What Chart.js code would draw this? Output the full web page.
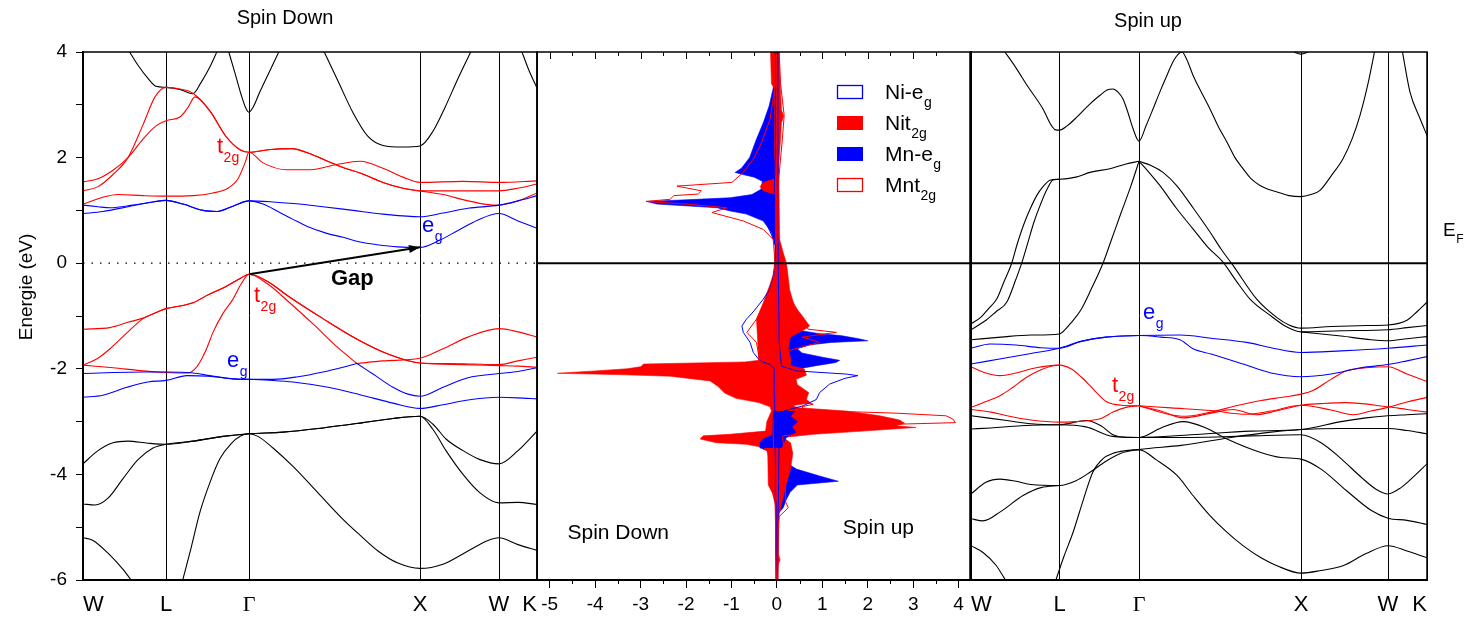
<!DOCTYPE html>
<html>
<head>
<meta charset="utf-8">
<script src="https://cdn.jsdelivr.net/npm/chart.js@4.4.0/dist/chart.umd.min.js"></script>
<style>
  html, body { margin: 0; padding: 0; background: #fff; }
  #wrap { position: relative; width: 1464px; height: 619px; overflow: hidden; }
  canvas { position: absolute; top: 0; }
</style>
</head>
<body>
<div id="wrap">
  <canvas id="bandDn" width="560" height="619" style="left:0px"></canvas>
  <canvas id="dos" width="490" height="619" style="left:500px"></canvas>
  <canvas id="bandUp" width="524" height="619" style="left:940px"></canvas>
</div>
<script>
// k-path (high symmetry points) and tick labels
const kDn = [0, 83, 166, 337, 416, 454];
const kUp = [0, 88.5, 168, 330, 417, 456];
const kLabels = ['W', 'L', 'Γ', 'X', 'W', 'K'];
const energyTicks = [4, 2, 0, -2, -4, -6];
const dosTicks = [-5, -4, -3, -2, -1, 0, 1, 2, 3, 4];
const fermiLevel = 0;

// ---- spin down bands [k, E] ----
const dnC1 = [[45,4.05],[55,3.75],[65,3.5],[73,3.35],[83,3.33],[97,3.29],[110,3.21],[118,3.42],[127,3.72],[135,4.05]];
const dnC2 = [[145,4.05],[152,3.6],[158,3.2],[163,2.93],[166,2.86],[170,2.95],[177,3.25],[187,3.65],[197,4.05]];
const dnC3 = [[240,4.05],[255,3.45],[270,2.85],[285,2.4],[300,2.23],[320,2.2],[337,2.22],[350,2.5],[362,2.95],[375,3.5],[389,4.05]];
const dnC4 = [[438,4.05],[446,3.65],[454,3.32]];
const dnV1 = [[0,-3.8],[15,-3.55],[30,-3.4],[45,-3.37],[65,-3.41],[83,-3.43],[110,-3.37],[140,-3.28],[166,-3.23],[200,-3.2],[240,-3.12],[280,-3.02],[310,-2.94],[337,-2.9],[350,-3.05],[363,-3.33],[380,-3.55],[397,-3.72],[416,-3.8],[435,-3.55],[454,-3.18]];
const dnV2 = [[0,-4.56],[12,-4.58],[25,-4.45],[40,-4.08],[55,-3.72],[70,-3.5],[83,-3.43],[110,-3.37],[140,-3.28],[166,-3.23],[200,-3.2],[240,-3.12],[280,-3.02],[310,-2.94],[337,-2.9],[350,-3.15],[363,-3.55],[380,-4.0],[397,-4.35],[416,-4.54],[435,-4.53],[454,-4.57]];
const dnV3 = [[99,-6.05],[108,-5.4],[117,-4.71],[127,-4.15],[137,-3.7],[148,-3.42],[158,-3.27],[166,-3.23],[175,-3.28],[190,-3.5],[210,-3.85],[235,-4.35],[260,-4.85],[277,-5.15],[295,-5.45],[315,-5.68],[337,-5.78],[360,-5.7],[385,-5.45],[405,-5.25],[416,-5.2],[435,-5.33],[454,-5.44]];
const dnV4 = [[0,-5.2],[10,-5.25],[27,-5.53],[40,-5.8],[50,-6.05]];
const dnR1 = [[0,1.54],[15,1.6],[30,1.76],[45,2.0],[60,2.35],[73,2.6],[83,2.7],[97,2.77],[105,2.95],[112,3.15],[127,2.88],[143,2.4],[157,2.15],[166,2.1],[185,2.15],[208,2.17],[230,2.05],[246,1.92],[262,1.8],[277,1.71],[300,1.53],[320,1.42],[337,1.37],[380,1.37],[416,1.37],[435,1.42],[454,1.5]];
const dnR2 = [[0,1.37],[15,1.45],[30,1.68],[45,2.0],[60,2.62],[72,3.15],[83,3.33],[97,3.3],[110,3.22],[127,2.88],[143,2.4],[157,2.15],[166,2.1],[185,2.15],[208,2.17],[230,2.05],[246,1.92],[262,1.8],[277,1.71],[300,1.53],[320,1.42],[337,1.37],[360,1.3],[385,1.18],[405,1.11],[416,1.1],[435,1.18],[454,1.33]];
const dnR3 = [[0,1.12],[20,1.25],[35,1.3],[60,1.28],[83,1.27],[110,1.28],[130,1.33],[145,1.42],[155,1.6],[162,1.9],[166,2.1],[180,1.9],[204,1.77],[227,1.77],[254,1.87],[277,1.93],[300,1.8],[320,1.63],[337,1.53],[380,1.55],[416,1.53],[454,1.56]];
const dnRV1 = [[0,-1.25],[27,-1.22],[45,-1.12],[60,-1.04],[75,-0.92],[83,-0.86],[100,-0.8],[110,-0.75],[125,-0.6],[143,-0.44],[158,-0.28],[166,-0.21],[185,-0.35],[205,-0.62],[240,-1.05],[275,-1.45],[305,-1.72],[337,-1.89],[380,-1.92],[416,-1.94],[435,-1.95],[454,-1.97]];
const dnRV2 = [[0,-1.93],[15,-1.8],[27,-1.62],[45,-1.3],[60,-1.05],[75,-0.92],[83,-0.86],[100,-0.8],[110,-0.75],[125,-0.6],[143,-0.44],[158,-0.28],[166,-0.21],[185,-0.35],[205,-0.62],[240,-1.05],[275,-1.45],[305,-1.72],[337,-1.89],[365,-1.9],[390,-1.91],[416,-1.92],[435,-1.85],[454,-1.78]];
const dnRV3 = [[0,-1.93],[30,-1.98],[60,-2.04],[83,-2.07],[105,-2.08],[112,-2.0],[117,-1.87],[124,-1.6],[130,-1.31],[140,-0.95],[150,-0.68],[158,-0.4],[166,-0.21],[185,-0.4],[205,-0.72],[230,-1.15],[255,-1.6],[274,-1.9]];
const dnRV4 = [[274,-1.9],[300,-1.85],[337,-1.8],[360,-1.62],[385,-1.4],[416,-1.24],[435,-1.3],[454,-1.4]];
const dnB1 = [[0,1.1],[15,1.07],[27,1.05],[50,1.1],[70,1.16],[83,1.19],[100,1.12],[120,1.0],[134,0.98],[150,1.08],[166,1.18],[190,1.16],[210,1.13],[240,1.07],[270,1.0],[300,0.93],[337,0.88],[360,0.95],[385,1.04],[416,1.1],[435,1.18],[454,1.28]];
const dnB2 = [[0,0.94],[20,0.98],[45,1.07],[70,1.16],[83,1.19],[100,1.12],[120,1.0],[134,0.98],[150,1.08],[166,1.18],[180,1.12],[195,0.98],[210,0.83],[225,0.69],[243,0.57],[260,0.49],[277,0.4],[294,0.35],[315,0.31],[337,0.3],[355,0.42],[375,0.62],[395,0.82],[416,0.94],[435,0.8],[454,0.66]];
const dnBV1 = [[0,-2.09],[30,-2.07],[60,-2.06],[83,-2.06],[110,-2.08],[127,-2.13],[150,-2.19],[166,-2.2],[190,-2.2],[215,-2.15],[240,-2.06],[260,-1.97],[274,-1.9]];
const dnBV2 = [[274,-1.9],[290,-2.1],[310,-2.35],[325,-2.48],[337,-2.52],[360,-2.35],[385,-2.17],[416,-2.09],[435,-2.05],[454,-1.98]];
const dnBV3 = [[0,-2.54],[20,-2.5],[44,-2.35],[65,-2.25],[83,-2.22],[104,-2.13],[125,-2.14],[150,-2.19],[166,-2.2],[190,-2.22],[210,-2.25],[245,-2.35],[277,-2.49],[310,-2.65],[337,-2.75],[360,-2.68],[385,-2.59],[416,-2.54],[435,-2.55],[454,-2.57]];
const gapArrow = [[166,-0.21],[337,0.3]];

// ---- spin up bands [k, E] ----
const upC1 = [[32,4.05],[45,3.7],[56,3.37],[72,2.92],[80,2.62],[84,2.53],[88.5,2.52],[96,2.6],[106,2.77],[118,3.0],[129,3.18],[136,3.28],[142,3.3],[147,3.24],[152,3.11],[157,2.85],[162,2.55],[168,2.31],[175,2.6],[182,2.92],[189,3.25],[196,3.56],[203,3.85],[211,4.0],[216,3.85],[222,3.56],[230,3.25],[239,2.92],[247,2.6],[256,2.29],[264,2.0],[272,1.79],[280,1.6],[289,1.47],[297,1.4],[306,1.35],[318,1.28],[330,1.26],[340,1.3],[349,1.38],[360,1.65],[372,1.98],[381,2.35],[389,2.8],[397,3.4],[404,4.05]];
const upC2 = [[431,4.05],[439,3.24],[449,2.74],[456,2.42]];
const upC3 = [[318,4.05],[330,3.96],[342,4.05]];
const upK1 = [[0,-1.15],[10,-1.02],[18,-0.85],[25.7,-0.68],[33,-0.35],[40.7,0],[46,0.35],[52.3,0.71],[59,1.02],[65.7,1.28],[72,1.45],[79,1.57],[88.5,1.59],[105,1.63],[119,1.72],[139,1.79],[155,1.88],[168,1.93]];
const upK2 = [[0,-1.26],[15,-1.08],[25,-0.92],[35.7,-0.74],[45,-0.3],[50.7,0],[57,0.4],[63,0.78],[69,1.09],[76,1.4],[82.3,1.58],[88.5,1.59]];
const upK3 = [[0,-1.45],[30,-1.4],[60,-1.36],[88.5,-1.34],[95,-1.24],[100,-1.13],[110,-0.88],[120,-0.5],[132,0],[140,0.42],[150,0.95],[160,1.47],[168,1.93]];
const upK4 = [[168,1.93],[180,1.85],[192,1.72],[205.7,1.47],[222,1.05],[239,0.59],[250,0.27],[262,-0.04],[285.7,-0.68],[306,-1.03],[318,-1.17],[330,-1.23],[360,-1.2],[395,-1.18],[417,-1.17],[436,-1.08],[446,-0.92],[456,-0.74]];
const upK5 = [[168,1.93],[178,1.72],[189,1.47],[205,1.05],[222,0.65],[237,0.3],[252,0.02],[265,-0.33],[279,-0.68],[300,-1.0],[315,-1.2],[330,-1.3],[370,-1.28],[417,-1.26],[436,-1.22],[456,-1.18]];
const upK6 = [[330,-1.3],[370,-1.38],[400,-1.45],[417,-1.47],[436,-1.43],[456,-1.39]];
const upB1 = [[0,-1.61],[19,-1.53],[45,-1.55],[70,-1.6],[88.5,-1.61],[110,-1.48],[135,-1.4],[168,-1.37],[209,-1.36],[240,-1.42],[275.7,-1.5],[300,-1.6],[330,-1.69],[370,-1.66],[417,-1.61],[456,-1.55]];
const upB2 = [[0,-1.91],[30,-1.81],[60,-1.71],[88.5,-1.61],[110,-1.48],[135,-1.4],[168,-1.37],[190,-1.4],[209,-1.45],[222,-1.62],[240,-1.72],[272,-1.91],[300,-2.08],[330,-2.15],[360,-2.1],[390,-1.98],[417,-1.92],[436,-1.85],[456,-1.77]];
const upRA = [[0,-1.96],[15,-2.08],[29,-2.13],[45,-2.08],[65,-1.98],[88.5,-1.93],[100,-2.0],[110,-2.15],[119,-2.32],[128,-2.5],[136,-2.63],[150,-2.69],[168,-2.7]];
const upRA2 = [[0,-2.73],[15,-2.62],[29,-2.51],[42,-2.35],[55.7,-2.16],[70,-2.02],[80,-1.95],[88.5,-1.93]];
const upRB = [[0,-2.77],[20,-2.82],[36,-2.89],[60,-2.97],[88.5,-3.01],[105,-3.0],[119,-2.98],[130,-2.94],[142,-2.82],[155,-2.73],[168,-2.7]];
const upR1 = [[168,-2.7],[190,-2.8],[212,-2.93],[240,-2.84],[262,-2.77],[285,-2.87],[305,-2.8],[330,-2.69],[350,-2.66],[375,-2.64],[417,-2.72],[436,-2.77],[456,-2.82]];
const upR2 = [[168,-2.7],[200,-2.74],[240,-2.79],[275,-2.86],[300,-2.8],[330,-2.69],[360,-2.78],[382,-2.87],[400,-2.8],[417,-2.73],[436,-2.63],[456,-2.54]];
const upR3 = [[168,-2.7],[195,-2.85],[215,-2.9],[240,-2.82],[265,-2.7],[290,-2.6],[315,-2.53],[330,-2.48],[342,-2.41],[360,-2.2],[375,-2.04],[395,-1.98],[417,-1.96],[436,-2.1],[456,-2.24]];
const upS1 = [[0,-2.89],[36,-2.98],[60,-3.04],[88.5,-3.06],[115,-2.98],[130,-3.08],[142,-3.25],[155,-3.3],[168,-3.3],[190,-3.12],[212,-3.0],[235,-3.12],[256,-3.33],[289,-3.58],[310,-3.68],[330,-3.71],[350,-3.9],[375,-4.3],[400,-4.68],[417,-4.83],[436,-4.87],[456,-4.95]];
const upS2 = [[0,-3.14],[20,-3.12],[50,-3.08],[88.5,-3.06],[115,-3.1],[142,-3.28],[168,-3.3],[220,-3.25],[280,-3.18],[330,-3.15],[370,-3.0],[395,-2.93],[417,-2.89],[436,-2.87],[456,-2.85]];
const upS3 = [[0,-4.37],[15,-4.15],[29,-4.09],[45,-4.13],[60,-4.19],[88.5,-4.21],[105,-4.12],[119,-3.96],[135,-3.75],[150,-3.6],[168,-3.53],[210,-3.45],[260,-3.3],[300,-3.2],[330,-3.15],[370,-3.13],[417,-3.13],[436,-3.17],[456,-3.23]];
const upS4 = [[168,-3.3],[220,-3.3],[280,-3.27],[330,-3.25],[350,-3.4],[370,-3.7],[390,-4.05],[405,-4.28],[417,-4.37],[430,-4.25],[445,-4.0],[456,-3.8]];
const upS5 = [[0,-4.84],[12,-4.88],[30,-4.7],[52,-4.4],[70,-4.25],[88.5,-4.21]];
const upS6 = [[84,-6.05],[93,-5.55],[102,-5.1],[112,-4.5],[122,-3.95],[132,-3.7],[142,-3.6],[155,-3.55],[168,-3.53],[185,-3.72],[206,-4.02],[222,-4.4],[239,-4.78],[255,-5.08],[272,-5.35],[290,-5.58],[306,-5.73],[330,-5.87],[350,-5.82],[372,-5.73],[395,-5.5],[417,-5.35],[436,-5.45],[456,-5.58]];
const upS7 = [[0,-5.35],[12,-5.48],[25,-5.72],[36,-6.05]];

// ---- PDOS [E, states] (spin down negative, spin up positive) ----
const niEgDn = [[-6,-0.01],[-4.5,-0.02],[-3.5,-0.04],[-2.5,-0.05],[-2.0,-0.06],[-1.92,-0.15],[-1.85,-0.37],[-1.69,-0.52],[-1.5,-0.59],[-1.31,-0.74],[-1.19,-0.77],[-1.06,-0.67],[-0.9,-0.5],[-0.68,-0.3],[-0.5,-0.16],[-0.2,-0.06],[0,-0.04],[0.33,-0.03],[0.5,-0.1],[0.7,-0.2],[0.9,-0.3],[1.0,-0.25],[1.1,-0.12],[1.3,-0.06],[2,-0.04],[4,-0.03]];
const niEgUp = [[-6,0.01],[-4,0.04],[-3.0,0.05],[-2.8,0.15],[-2.7,0.58],[-2.58,0.87],[-2.45,0.94],[-2.29,1.16],[-2.18,1.5],[-2.13,1.78],[-2.1,1.53],[-2.04,0.43],[-1.95,0.1],[-1.5,0.05],[0,0.03],[4,0.02]];
const nit2gDn = [[-6,-0.02],[-5.7,-0.03],[-5.6,-0.04],[-5.45,-0.02],[-4.6,-0.03],[-4.35,-0.1],[-4.2,-0.19],[-3.65,-0.2],[-3.55,-0.22],[-3.49,-0.3],[-3.43,-0.67],[-3.4,-1.33],[-3.33,-1.69],[-3.27,-1.62],[-3.24,-1.03],[-3.18,-0.25],[-3.0,-0.22],[-2.8,-0.12],[-2.72,-0.15],[-2.64,-0.4],[-2.56,-0.9],[-2.46,-1.15],[-2.33,-1.3],[-2.23,-1.47],[-2.14,-2.35],[-2.11,-3.5],[-2.085,-4.83],[-2.04,-4.0],[-2.0,-3.3],[-1.96,-3.0],[-1.91,-2.93],[-1.87,-0.7],[-1.84,-0.4],[-1.5,-0.42],[-1.06,-0.45],[-0.75,-0.3],[-0.4,-0.15],[-0.11,-0.04],[0,-0.03],[0.5,-0.03],[1.3,-0.04],[1.37,-0.3],[1.45,-0.37],[1.53,-0.3],[1.6,-0.05],[3.3,-0.05],[3.4,-0.12],[4,-0.14]];
const nit2gUp = [[-6,0.02],[-5.7,0.03],[-5.62,0.07],[-5.5,0.03],[-4.75,0.05],[-4.5,0.12],[-4.2,0.2],[-3.9,0.3],[-3.6,0.35],[-3.4,0.3],[-3.3,0.14],[-3.24,0.8],[-3.18,1.89],[-3.11,3.06],[-3.08,2.62],[-3.03,2.81],[-2.97,2.7],[-2.89,2.26],[-2.8,1.53],[-2.74,0.5],[-2.7,0.3],[-2.65,0.75],[-2.58,0.65],[-2.45,0.7],[-2.3,0.45],[-2.2,0.42],[-2.12,0.65],[-2.0,0.6],[-1.94,0.3],[-1.8,0.3],[-1.6,0.25],[-1.4,0.3],[-1.25,0.62],[-1.19,0.72],[-1.0,0.56],[-0.8,0.38],[-0.5,0.28],[-0.2,0.24],[0,0.21],[0.2,0.14],[0.45,0.06],[1.84,0.04],[2.35,0.08],[2.66,0.1],[2.79,0.15],[2.9,0.1],[3.42,0.07],[4,0.05]];
const mnEgDn = [[-6,-0.01],[-5.5,-0.02],[-4.45,-0.03],[-4.3,-0.12],[-4.2,-0.1],[-3.9,-0.06],[-3.6,-0.08],[-3.5,-0.36],[-3.4,-0.37],[-3.33,-0.3],[-3.25,-0.1],[-2.8,-0.08],[-2.3,-0.1],[-2.1,-0.12],[-1.9,-0.08],[-1.0,-0.12],[-0.5,-0.12],[0,-0.05],[0.33,-0.04],[0.58,-0.12],[0.8,-0.3],[0.93,-0.67],[0.99,-1.03],[1.05,-1.32],[1.12,-2.64],[1.17,-2.86],[1.2,-2.0],[1.24,-1.03],[1.3,-0.55],[1.4,-0.35],[1.55,-0.32],[1.63,-0.5],[1.68,-0.75],[1.72,-0.92],[1.8,-0.78],[2.0,-0.6],[2.35,-0.45],[2.66,-0.3],[2.98,-0.17],[3.36,-0.07],[4,-0.04]];
const mnEgUp = [[-6,0.01],[-4.75,0.02],[-4.63,0.14],[-4.47,0.21],[-4.34,0.29],[-4.2,0.45],[-4.13,1.35],[-4.03,0.94],[-3.9,0.43],[-3.71,0.08],[-3.5,0.1],[-3.3,0.2],[-3.2,0.42],[-3.1,0.33],[-3.0,0.45],[-2.9,0.3],[-2.8,0.4],[-2.65,0.35],[-2.45,0.4],[-2.3,0.38],[-2.15,0.3],[-2.05,0.15],[-1.95,0.8],[-1.88,1.3],[-1.84,1.38],[-1.78,1.0],[-1.7,0.55],[-1.62,0.45],[-1.55,0.7],[-1.5,1.2],[-1.47,2.0],[-1.43,1.8],[-1.37,1.4],[-1.33,0.9],[-1.28,0.55],[-1.2,0.3],[-1.0,0.12],[-0.5,0.05],[0,0.03],[4,0.02]];
const mnt2gDn = [[-6,-0.01],[-5,-0.03],[-4,-0.05],[-3.3,-0.08],[-2.5,-0.1],[-2.0,-0.12],[-1.85,-0.38],[-1.5,-0.45],[-1.31,-0.66],[-1.06,-0.45],[-0.81,-0.3],[-0.62,-0.19],[-0.3,-0.08],[0,-0.04],[0.45,-0.08],[0.64,-0.3],[0.8,-0.74],[0.96,-1.43],[1.05,-1.1],[1.12,-2.0],[1.17,-2.88],[1.21,-2.35],[1.28,-2.27],[1.31,-1.73],[1.37,-1.66],[1.46,-2.2],[1.53,-0.99],[1.72,-0.74],[1.97,-0.52],[2.22,-0.37],[2.73,-0.15],[3.42,-0.03],[4,-0.02]];
const mnt2gUp = [[-6,0.02],[-5,0.03],[-4.8,0.05],[-4.63,0.25],[-4.5,0.18],[-4.0,0.18],[-3.6,0.2],[-3.3,0.12],[-3.27,0.14],[-3.18,1.16],[-3.05,2.62],[-3.02,3.93],[-2.95,3.87],[-2.89,3.72],[-2.84,2.62],[-2.82,1.89],[-2.8,0.65],[-2.72,0.55],[-2.67,0.8],[-2.6,0.5],[-2.4,0.25],[-2.1,0.2],[-1.84,0.3],[-1.7,0.15],[-1.63,0.36],[-1.5,0.94],[-1.4,0.55],[-1.31,1.31],[-1.25,0.69],[-1.12,0.58],[-0.81,0.4],[-0.5,0.2],[0,0.12],[0.5,0.04],[1.5,0.03],[2.35,0.12],[2.8,0.16],[3.4,0.08],[4,0.05]];

const FONT = 'Arial, "Liberation Sans", sans-serif';
const SERIF = '"Liberation Serif", "Times New Roman", serif';
const RED = '#ff0000', BLUE = '#0000ff', BLACK = '#000000';

Chart.defaults.font.family = FONT;
Chart.defaults.color = BLACK;
Chart.defaults.animation = false;
Chart.defaults.events = [];
Chart.defaults.plugins.legend.display = false;
Chart.defaults.plugins.tooltip.enabled = false;

function band(pts, color, width) {
  return {
    data: pts.map(([k, e]) => ({ x: k, y: e })),
    borderColor: color, borderWidth: width || 1.1,
    pointRadius: 0, fill: false, cubicInterpolationMode: 'monotone'
  };
}

function dosSet(pts, color, filled) {
  return {
    data: pts.map(([e, d]) => ({ x: d, y: e })),
    borderColor: color, backgroundColor: color,
    borderWidth: filled ? 0.6 : 1, fill: filled ? 'origin' : false,
    pointRadius: 0, tension: 0
  };
}

function drawText(ctx, n, px, py) {
  ctx.save();
  ctx.translate(px, py);
  if (n.rotate) ctx.rotate(n.rotate);
  ctx.fillStyle = n.color || BLACK;
  ctx.font = (n.bold ? 'bold ' : '') + n.size + 'px ' + FONT;
  ctx.textAlign = n.align || 'left';
  ctx.textBaseline = n.baseline || 'alphabetic';
  ctx.fillText(n.text, 0, 0);
  if (n.sub) {
    const w = ctx.measureText(n.text).width;
    ctx.font = (n.subSize || Math.round(n.size * 0.65)) + 'px ' + FONT;
    ctx.textAlign = 'left';
    ctx.fillText(n.sub, w + 0.5, n.size * 0.4);
  }
  ctx.restore();
}

// text placed in data coordinates of each panel
function notesPlugin(notes) {
  return {
    id: 'notes',
    afterDraw(chart) {
      const { ctx, scales } = chart;
      notes.forEach(n => drawText(ctx, n, scales.x.getPixelForValue(n.x), scales.y.getPixelForValue(n.y)));
    }
  };
}

function framePlugin(fermiDash) {
  return {
    id: 'frame',
    afterDatasetsDraw(chart) {
      const { ctx, chartArea: a, scales } = chart;
      ctx.save();
      const y0 = scales.y.getPixelForValue(fermiLevel);
      ctx.beginPath();
      ctx.strokeStyle = BLACK;
      if (fermiDash) { ctx.setLineDash([1.5, 7]); ctx.lineWidth = 1.3; }
      else { ctx.lineWidth = 2; }
      ctx.moveTo(a.left, y0); ctx.lineTo(a.right, y0); ctx.stroke();
      ctx.setLineDash([]);
      ctx.lineWidth = 1.5;
      ctx.strokeRect(a.left, a.top, a.right - a.left, a.bottom - a.top);
      ctx.restore();
    }
  };
}

// short half-step ticks under the PDOS axis
const minorTicks = {
  id: 'minorTicks',
  afterDraw(chart) {
    const { ctx, chartArea: a, scales } = chart;
    ctx.save();
    ctx.strokeStyle = BLACK; ctx.lineWidth = 1;
    dosTicks.forEach(v => {
      const px = Math.round(scales.x.getPixelForValue(v + 0.5)) + 0.5;
      if (px > a.right) return;
      ctx.beginPath(); ctx.moveTo(px, a.bottom); ctx.lineTo(px, a.bottom + 4); ctx.stroke();
      ctx.beginPath(); ctx.moveTo(px, a.top); ctx.lineTo(px, a.top + 4); ctx.stroke();
      const pm = Math.round(scales.x.getPixelForValue(v)) + 0.5;
      ctx.beginPath(); ctx.moveTo(pm, a.top); ctx.lineTo(pm, a.top + 7); ctx.stroke();
    });
    ctx.restore();
  }
};

const arrowHead = {
  id: 'arrowHead',
  afterDatasetsDraw(chart) {
    const { ctx, scales } = chart;
    const [p0, p1] = gapArrow.map(([k, e]) => [scales.x.getPixelForValue(k), scales.y.getPixelForValue(e)]);
    const ang = Math.atan2(p1[1] - p0[1], p1[0] - p0[0]);
    ctx.save();
    ctx.translate(p1[0], p1[1]);
    ctx.rotate(ang);
    ctx.beginPath();
    ctx.moveTo(0, 0); ctx.lineTo(-11, -4); ctx.lineTo(-11, 4); ctx.closePath();
    ctx.fillStyle = BLACK; ctx.fill();
    ctx.restore();
  }
};

function bandScales(kPts, yWidth, showY) {
  return {
    x: {
      type: 'linear', min: kPts[0], max: kPts[kPts.length - 1],
      afterBuildTicks: s => { s.ticks = kPts.map(v => ({ value: v })); },
      afterFit: s => { s.height = 39; },
      ticks: {
        autoSkip: false, maxRotation: 0, align: 'inner', padding: 12, color: BLACK,
        callback: (v, i) => kLabels[i],
        font: c => (kLabels[c.index] === 'Γ' ? { family: SERIF, size: 22 } : { family: FONT, size: 22 })
      },
      grid: { color: BLACK, lineWidth: 1, drawTicks: false },
      border: { color: BLACK, width: 2 }
    },
    y: {
      type: 'linear', min: -6, max: 4,
      afterFit: s => { s.width = yWidth; },
      ticks: {
        display: showY, stepSize: 1, padding: 9, color: BLACK, font: { size: 19 },
        callback: v => (energyTicks.includes(v) ? String(v) : '')
      },
      grid: { drawOnChartArea: false, color: BLACK, tickLength: 7, drawTicks: showY },
      border: { color: BLACK, width: 2 }
    }
  };
}

// ---- spin down band structure ----
const dnNotes = [
  { x: 202, y: 4.53, text: 'Spin Down', size: 20, align: 'center' },
  { x: -56, y: -0.45, text: 'Energie (eV)', size: 19, align: 'center', baseline: 'middle', rotate: -Math.PI / 2 },
  { x: 134, y: 2.09, text: 't', sub: '2g', size: 22, subSize: 14, color: RED },
  { x: 339, y: 0.59, text: 'e', sub: 'g', size: 22, subSize: 14, color: BLUE },
  { x: 171, y: -0.74, text: 't', sub: '2g', size: 22, subSize: 14, color: RED },
  { x: 144, y: -1.97, text: 'e', sub: 'g', size: 22, subSize: 14, color: BLUE },
  { x: 248, y: -0.41, text: 'Gap', size: 22, bold: true }
];
new Chart(document.getElementById('bandDn'), {
  type: 'line',
  data: {
    datasets: [
      band(gapArrow, BLACK, 2),
      ...[dnB1, dnB2, dnBV1, dnBV2, dnBV3].map(b => band(b, BLUE)),
      ...[dnR1, dnR2, dnR3, dnRV1, dnRV2, dnRV3, dnRV4].map(b => band(b, RED)),
      ...[dnC1, dnC2, dnC3, dnC4, dnV1, dnV2, dnV3, dnV4].map(b => band(b, BLACK))
    ]
  },
  options: {
    responsive: false,
    layout: { padding: { top: 52, right: 23, left: 0, bottom: 0 } },
    scales: bandScales(kDn, 83, true)
  },
  plugins: [framePlugin(true), arrowHead, notesPlugin(dnNotes)]
});

// ---- PDOS panel ----
const overlayRange = ([e]) => e >= -3.5 && e <= -2.75;
const dosLayers = [
  dosSet(mnEgDn, BLUE, true), dosSet(mnEgUp, BLUE, true),
  dosSet(nit2gDn, RED, true), dosSet(nit2gUp, RED, true),
  dosSet(mnEgDn.filter(overlayRange), BLUE, true), dosSet(mnEgUp.filter(overlayRange), BLUE, true),
  dosSet(niEgDn, BLUE, false), dosSet(niEgUp, BLUE, false),
  dosSet(mnt2gDn, RED, false), dosSet(mnt2gUp, RED, false)
];
dosLayers.forEach((d, i) => { d.order = dosLayers.length - i; });

const legendItems = [
  { text: 'Ni-e', sub: 'g', color: BLUE, filled: false },
  { text: 'Nit', sub: '2g', color: RED, filled: true },
  { text: 'Mn-e', sub: 'g', color: BLUE, filled: true },
  { text: 'Mnt', sub: '2g', color: RED, filled: false }
];
const dosLegend = {
  id: 'dosLegend',
  afterDraw(chart) {
    const { ctx, chartArea: a } = chart;
    legendItems.forEach((it, i) => {
      const bx = a.left + 300, by = a.top + 33 + i * 31;
      ctx.save();
      if (it.filled) { ctx.fillStyle = it.color; ctx.fillRect(bx, by, 26, 14); }
      else { ctx.strokeStyle = it.color; ctx.lineWidth = 1.3; ctx.strokeRect(bx + 0.5, by + 0.5, 25, 13); }
      ctx.restore();
      drawText(ctx, { text: it.text, sub: it.sub, size: 21, subSize: 14 }, bx + 48, by + 14);
    });
  }
};
const dosNotes = [
  { x: -4.61, y: -5.23, text: 'Spin Down', size: 21 },
  { x: 1.45, y: -5.13, text: 'Spin up', size: 21 }
];
new Chart(document.getElementById('dos'), {
  type: 'line',
  data: { datasets: dosLayers },
  options: {
    responsive: false,
    indexAxis: 'y',
    layout: { padding: { top: 52, right: 20, left: 37, bottom: 0 } },
    scales: {
      x: {
        type: 'linear', min: -5.28, max: 4.25,
        afterBuildTicks: s => { s.ticks = dosTicks.map(v => ({ value: v })); },
        afterFit: s => { s.height = 39; },
        ticks: { autoSkip: false, maxRotation: 0, padding: 5, color: BLACK, font: { size: 19 }, callback: v => String(v) },
        grid: { drawOnChartArea: false, color: BLACK, tickLength: 8 },
        border: { color: BLACK, width: 2 }
      },
      y: { type: 'linear', min: -6, max: 4, display: false }
    }
  },
  plugins: [framePlugin(false), minorTicks, dosLegend, notesPlugin(dosNotes)]
});

// ---- spin up band structure ----
const upNotes = [
  { x: 177, y: 4.48, text: 'Spin up', size: 20, align: 'center' },
  { x: 172, y: -1.06, text: 'e', sub: 'g', size: 22, subSize: 14, color: BLUE },
  { x: 141, y: -2.44, text: 't', sub: '2g', size: 22, subSize: 14, color: RED },
  { x: 472, y: 0.52, text: 'E', sub: 'F', size: 19, subSize: 12 }
];
new Chart(document.getElementById('bandUp'), {
  type: 'line',
  data: {
    datasets: [
      ...[upB1, upB2].map(b => band(b, BLUE)),
      ...[upRA, upRA2, upRB, upR1, upR2, upR3].map(b => band(b, RED)),
      ...[upC1, upC2, upC3, upK1, upK2, upK3, upK4, upK5, upK6, upS1, upS2, upS3, upS4, upS5, upS6, upS7].map(b => band(b, BLACK))
    ]
  },
  options: {
    responsive: false,
    layout: { padding: { top: 52, right: 37, left: 0, bottom: 0 } },
    scales: bandScales(kUp, 31, false)
  },
  plugins: [framePlugin(false), notesPlugin(upNotes)]
});
</script>
</body>
</html>
